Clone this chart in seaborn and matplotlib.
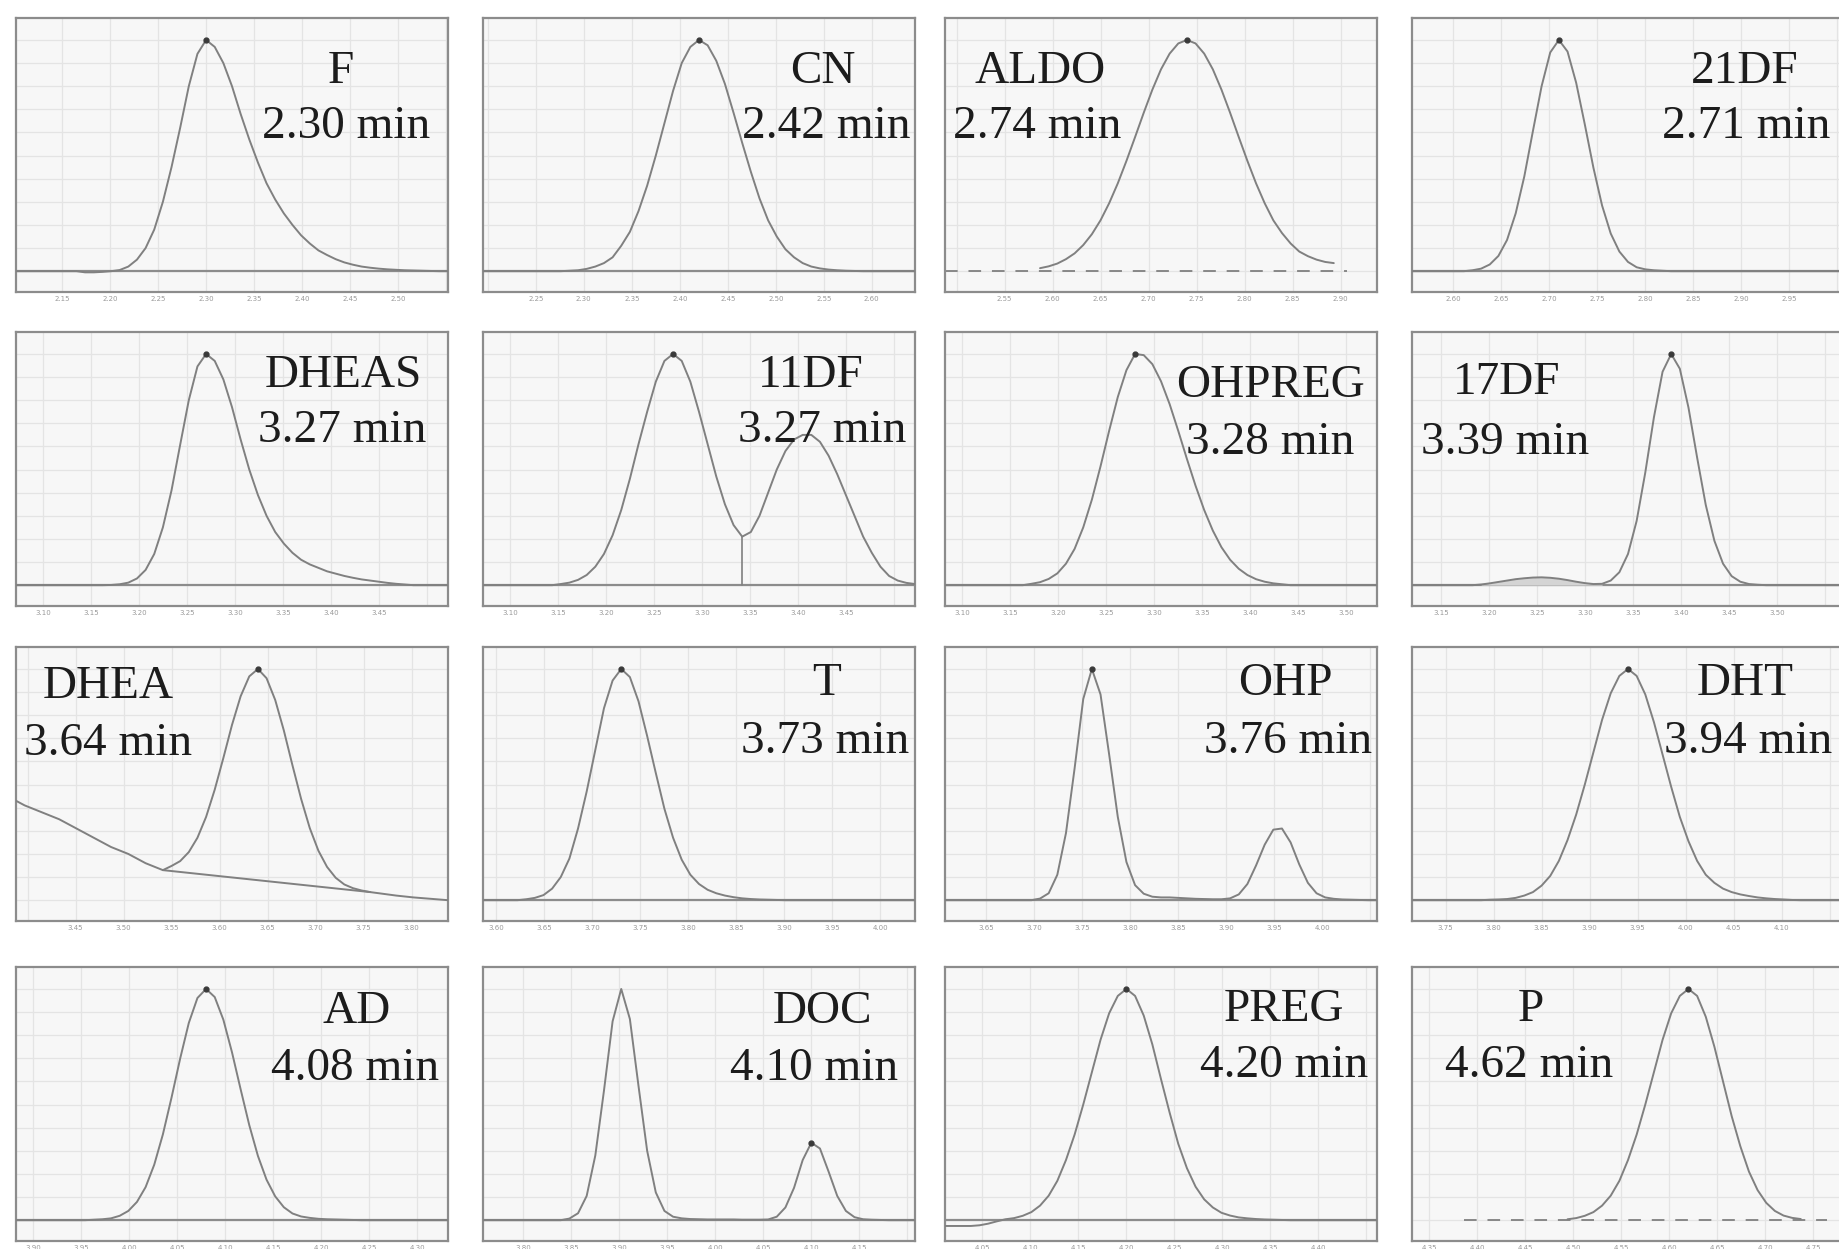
import numpy as np
import pandas as pd
import matplotlib
matplotlib.use("Agg")
import matplotlib.pyplot as plt
from matplotlib.ticker import MultipleLocator, FuncFormatter
import seaborn as sns

sns.set_theme(style="whitegrid")
plt.rcParams["font.family"] = ["Liberation Serif", "DejaVu Serif"]

NaN = np.nan

# ---------------- data ----------------
compounds = ["F", "CN", "ALDO", "21DF",
             "DHEAS", "11DF", "OHPREG", "17DF",
             "DHEA", "T", "OHP", "DHT",
             "AD", "DOC", "PREG", "P"]
retention_min = [2.30, 2.42, 2.74, 2.71,
                 3.27, 3.27, 3.28, 3.39,
                 3.64, 3.73, 3.76, 3.94,
                 4.08, 4.10, 4.20, 4.62]

# sampling positions across each chromatogram window (fraction of window)
frac_grid = np.round(np.arange(51) * 0.02, 2)

sig_F = [0, 0, 0, 0, 0, 0, 0, 0, -0.5, -0.5,
         -0.3, 0, 0.5, 2, 5, 10, 18, 30, 45, 62,
         80, 94, 100, 97, 90, 80, 68, 57, 47, 38,
         31, 25, 20, 15.5, 12, 9, 7, 5.2, 3.8, 2.8,
         2, 1.5, 1.1, 0.8, 0.6, 0.4, 0.3, 0.2, 0.1, 0, 0]
sig_CN = [0, 0, 0, 0, 0, 0, 0, 0, 0, 0,
          0.2, 0.4, 1, 2, 3.5, 6, 11, 17, 26, 37,
          50, 64, 78, 90, 97, 100, 97.7, 91, 81, 68.5,
          55.5, 43, 31.5, 22, 15, 9.5, 6, 3.5, 2, 1.2,
          0.7, 0.4, 0.2, 0.1, 0, 0, 0, 0, 0, 0, 0]
sig_ALDO = [NaN, NaN, NaN, NaN, NaN, NaN, NaN, NaN, NaN, NaN,
            NaN, 1.3, 2.1, 3.3, 5.2, 7.7, 11.3, 16, 22, 29.4,
            38, 47.7, 58, 68.5, 78.5, 87.3, 94.1, 98.5, 100, 98.5,
            94.1, 87.3, 78.5, 68.5, 58, 47.7, 38, 29.4, 22, 16.5,
            12, 8.5, 6.5, 5, 4, 3.5, NaN, NaN, NaN, NaN, NaN]
sig_21DF = [0, 0, 0, 0, 0, 0, 0, 0.4, 1.1, 2.9,
            6.6, 13.5, 25, 41, 60.7, 80, 94.6, 100, 95, 81.5,
            63.5, 44.7, 28.4, 16.3, 8.5, 4, 1.7, 0.8, 0.4, 0.2,
            0, 0, 0, 0, 0, 0, 0, 0, 0, 0,
            0, 0, 0, 0, 0, 0, 0, 0, 0, 0, 0]
sig_DHEAS = [0, 0, 0, 0, 0, 0, 0, 0, 0, 0,
             0, 0.1, 0.4, 1.1, 2.9, 6.6, 13.5, 25, 41, 60.7,
             80, 94.6, 100, 97, 89, 77, 63, 50, 39, 30,
             23, 18, 14, 11, 9, 7.5, 6, 5, 4, 3.2,
             2.5, 2, 1.5, 1, 0.6, 0.3, 0, 0, 0, 0, 0]
sig_11DF = [0, 0, 0, 0, 0, 0, 0, 0, 0, 0.5,
            1.1, 2.3, 4.4, 8, 13.5, 21.6, 32.5, 46, 61, 75,
            88, 97, 100, 97, 88, 75, 61, 47, 35, 26,
            21, 23, 30, 40, 50, 58, 63, 65, 65, 62,
            56, 48, 39, 30, 21, 14, 8, 4, 2, 1, 0.5]
sig_OHPREG = [0, 0, 0, 0, 0, 0, 0, 0, 0, 0,
              0.6, 1.3, 2.7, 5.1, 9.3, 15.7, 25, 37, 51.4, 66.8,
              81.4, 93, 100, 99.5, 95.6, 88.2, 78.3, 66.7, 54.6, 43,
              32.5, 23.6, 16.4, 11, 7.1, 4.4, 2.6, 1.5, 0.8, 0.4,
              0, 0, 0, 0, 0, 0, 0, 0, 0, 0, 0]
sig_17DF = [0, 0, 0, 0, 0, 0, 0, 0, 0.3, 0.8,
            1.4, 2, 2.6, 3, 3.3, 3.4, 3.2, 2.8, 2.2, 1.5,
            0.9, 0.5, 0.6, 2, 5.6, 13.5, 27.8, 48.7, 72.6, 92.3,
            100, 93.6, 76.8, 55.2, 34.7, 19.2, 9.3, 3.9, 1.5, 0.5,
            0.2, 0, 0, 0, 0, 0, 0, 0, 0, 0, 0]
sig_DHEA = [43, 41, 39.5, 38, 36.5, 35, 33, 31, 29, 27,
            25, 23, 21.5, 20, 18, 16, 14.5, 13, 14.8, 16.9,
            20.8, 27, 36, 47.8, 61.5, 75.8, 88.2, 96.8, 100, 96,
            86.6, 73.4, 58.3, 43.8, 31.2, 21.4, 14.4, 9.7, 6.8, 5.2,
            4.2, 3.5, 3, 2.5, 2, 1.6, 1.2, 0.9, 0.6, 0.3, 0]
sig_T = [0, 0, 0, 0, 0, 0.4, 1, 2.2, 5, 10,
         18, 31, 47, 65, 83, 95, 100, 96.5, 86, 71,
         55, 39.5, 27, 17.5, 11, 7, 4.5, 3, 2, 1.3,
         0.8, 0.5, 0.3, 0.2, 0.1, 0, 0, 0, 0, 0,
         0, 0, 0, 0, 0, 0, 0, 0, 0, 0, 0]
sig_OHP = [0, 0, 0, 0, 0, 0, 0, 0, 0, 0,
           0, 0.7, 3, 11, 29, 57, 87, 100, 89, 63,
           36, 16.5, 6.5, 2.8, 1.5, 1.2, 1.2, 1.0, 0.8, 0.6,
           0.5, 0.4, 0.4, 0.8, 2.5, 7, 15, 24, 30.5, 31,
           25, 15.5, 7.5, 3, 1.2, 0.6, 0.3, 0.2, 0.1, 0, 0]
sig_DHT = [0, 0, 0, 0, 0, 0, 0, 0, 0, 0.2,
           0.3, 0.5, 1, 2, 3.5, 6.3, 10.5, 17, 26, 37,
           50, 64, 78, 89.5, 97, 100, 97, 89, 77, 63,
           49, 36, 25.5, 17, 11, 7.5, 5, 3.5, 2.5, 1.8,
           1.2, 0.8, 0.5, 0.3, 0.1, 0, 0, 0, 0, 0, 0]
sig_AD = [0, 0, 0, 0, 0, 0, 0, 0, 0, 0.2,
          0.4, 0.8, 1.9, 4, 7.9, 14.3, 24, 37.1, 53, 69.9,
          85.3, 96.1, 100, 96.5, 86.7, 72.6, 56.6, 41.1, 27.8, 17.5,
          10.3, 5.6, 2.9, 1.6, 1, 0.6, 0.4, 0.3, 0.2, 0.1,
          0, 0, 0, 0, 0, 0, 0, 0, 0, 0, 0]
sig_DOC = [0, 0, 0, 0, 0, 0, 0, 0, 0, 0,
           0.7, 3, 10.5, 28, 56, 86, 100, 87, 58, 30,
           12, 4, 1.5, 0.8, 0.5, 0.4, 0.3, 0.3, 0.3, 0.3,
           0.2, 0.2, 0.2, 0.3, 1.5, 5.5, 14, 26, 33.5, 31,
           21, 10.5, 4, 1.3, 0.4, 0.2, 0.1, 0, 0, 0, 0]
sig_PREG = [-2.5, -2.5, -2.5, -2.5, -2.2, -1.5, -0.5, 0.4, 0.9, 1.9,
            3.5, 6.3, 10.6, 17, 26, 37, 50, 64, 78, 89.5,
            97, 100, 97, 88.5, 76, 61, 46.5, 33, 22.5, 14.5,
            9, 5.5, 3.2, 2, 1.2, 0.8, 0.5, 0.3, 0.2, 0.1,
            0, 0, 0, 0, 0, 0, 0, 0, 0, 0, 0]
sig_P = [NaN, NaN, NaN, NaN, NaN, NaN, NaN, NaN, NaN, NaN,
         NaN, NaN, NaN, NaN, NaN, NaN, NaN, NaN, 0.4, 0.9,
         1.9, 3.5, 6.3, 10.6, 17, 26, 37, 50, 64, 78,
         89.5, 97, 100, 97, 88, 75, 60, 45, 32, 21,
         13, 7.5, 4, 2, 1, 0.5, NaN, NaN, NaN, NaN, NaN]

signals = [sig_F, sig_CN, sig_ALDO, sig_21DF,
           sig_DHEAS, sig_11DF, sig_OHPREG, sig_17DF,
           sig_DHEA, sig_T, sig_OHP, sig_DHT,
           sig_AD, sig_DOC, sig_PREG, sig_P]

# fraction of the window where the labelled (marked) peak sits
marked_peak_frac = [0.44, 0.50, 0.56, 0.34,
                    0.44, 0.44, 0.44, 0.60,
                    0.56, 0.32, 0.34, 0.50,
                    0.44, 0.76, 0.42, 0.64]
baseline_kind = ["solid", "solid", "dashed", "solid",
                 "solid", "solid", "solid", "solid",
                 "none", "solid", "solid", "solid",
                 "solid", "solid", "solid", "dashed"]
dashed_baseline_span = {"ALDO": [0.0, 0.93], "P": [0.12, 0.96]}
dhea_integration_frac = [0.34, 0.82]
dhea_integration_val = [13, 3.5]
valley_drop_frac = {"11DF": 0.60}
hump_span_frac = {"17DF": [0.16, 0.44]}
WINDOW_MIN = 0.45

# ---------------- layout / style ----------------
FIG_W, FIG_H = 1839, 1249
col_left = [16, 483, 945, 1412]
row_top = [18, 332, 647, 967]
PANEL_W, PANEL_H = 432, 274

# (name_x, time_x, name_y, time_y) in axes fractions, text baselines
label_pos = [(0.753, 0.764, 0.762, 0.562), (0.786, 0.794, 0.762, 0.562),
             (0.221, 0.213, 0.762, 0.562), (0.771, 0.774, 0.762, 0.562),
             (0.758, 0.756, 0.798, 0.597), (0.759, 0.786, 0.798, 0.597),
             (0.753, 0.753, 0.764, 0.554), (0.218, 0.216, 0.773, 0.554),
             (0.214, 0.214, 0.813, 0.605), (0.795, 0.792, 0.826, 0.614),
             (0.789, 0.795, 0.826, 0.614), (0.771, 0.778, 0.826, 0.614),
             (0.788, 0.785, 0.796, 0.589), (0.786, 0.767, 0.796, 0.589),
             (0.784, 0.784, 0.804, 0.598), (0.275, 0.272, 0.804, 0.598)]

CURVE = "#808080"
FRAME = "#8c8c8c"
GRID = "#e4e4e4"
FACE = "#f7f7f7"

fig = plt.figure(figsize=(FIG_W / 100, FIG_H / 100), dpi=100)
fig.patch.set_facecolor("white")


def make_formatter(t0):
    def fmt(v, pos):
        f = (v - t0) / WINDOW_MIN
        return f"{v:.2f}" if 0.03 < f < 0.95 else ""
    return FuncFormatter(fmt)


for k, name in enumerate(compounds):
    r, c = divmod(k, 4)
    ax = fig.add_axes([col_left[c] / FIG_W, 1 - (row_top[r] + PANEL_H) / FIG_H,
                       PANEL_W / FIG_W, PANEL_H / FIG_H])
    rt = retention_min[k]
    mf = marked_peak_frac[k]
    t0 = rt - mf * WINDOW_MIN
    to_time = lambda f: t0 + np.asarray(f) * WINDOW_MIN
    time = to_time(frac_grid)
    y = np.array(signals[k], dtype=float)
    df = pd.DataFrame({"time": time, "signal": y})

    ax.set_facecolor(FACE)
    # baseline
    if baseline_kind[k] == "solid":
        ax.axhline(0, color=FRAME, lw=1.6, zorder=2)
    elif baseline_kind[k] == "dashed":
        span = to_time(dashed_baseline_span[name])
        ax.plot(span, [0, 0], color=CURVE, lw=1.3, ls=(0, (7, 6)), zorder=2)

    if name in hump_span_frac:
        a, b = hump_span_frac[name]
        m = (frac_grid >= a) & (frac_grid <= b)
        ax.fill_between(time[m], 0, y[m], color="#d4d4d4", lw=0, zorder=2)

    sns.lineplot(data=df, x="time", y="signal", ax=ax, color=CURVE,
                 lw=1.4, zorder=3, sort=True)

    if name == "DHEA":
        ax.plot(to_time(dhea_integration_frac), dhea_integration_val,
                color=CURVE, lw=1.4, zorder=3)
    if name in valley_drop_frac:
        vf = valley_drop_frac[name]
        vy = y[np.argmin(np.abs(frac_grid - vf))]
        ax.plot(to_time([vf, vf]), [0, vy], color=CURVE, lw=1.2, zorder=3)

    # apex marker
    iy = np.argmin(np.abs(frac_grid - mf))
    ax.plot([time[iy]], [y[iy]], marker="o", ms=3.5, color="#3a3a3a", zorder=4)

    ax.set_xlim(t0, t0 + WINDOW_MIN)
    ax.set_ylim(-9, 109.5)
    ax.xaxis.set_major_locator(MultipleLocator(0.05))
    ax.xaxis.set_minor_locator(MultipleLocator(0.01))
    ax.xaxis.set_major_formatter(make_formatter(t0))
    ax.yaxis.set_major_locator(MultipleLocator(10))
    ax.grid(True, which="major", color=GRID, lw=0.9)
    ax.tick_params(axis="x", which="major", direction="in", length=4, width=0.8,
                   color=FRAME, labelsize=5, labelcolor="#9a9a9a", pad=3)
    ax.tick_params(axis="x", which="minor", direction="in", length=2, width=0.6,
                   color="#b0b0b0")
    ax.tick_params(axis="y", left=False, labelleft=False)
    for lab in ax.get_xticklabels():
        lab.set_family("DejaVu Sans")
    ax.set_xlabel("")
    ax.set_ylabel("")
    for s in ax.spines.values():
        s.set_color(FRAME)
        s.set_linewidth(1.6)

    nx, tx, ny, ty = label_pos[k]
    ax.text(nx, ny, name, transform=ax.transAxes, ha="center", va="baseline",
            fontsize=34, color="#1c1c1c", zorder=5, clip_on=False)
    ax.text(tx, ty, f"{rt:.2f} min", transform=ax.transAxes, ha="center",
            va="baseline", fontsize=34, color="#1c1c1c", zorder=5, clip_on=False)

fig.savefig("out.png", dpi=100, facecolor="white")
